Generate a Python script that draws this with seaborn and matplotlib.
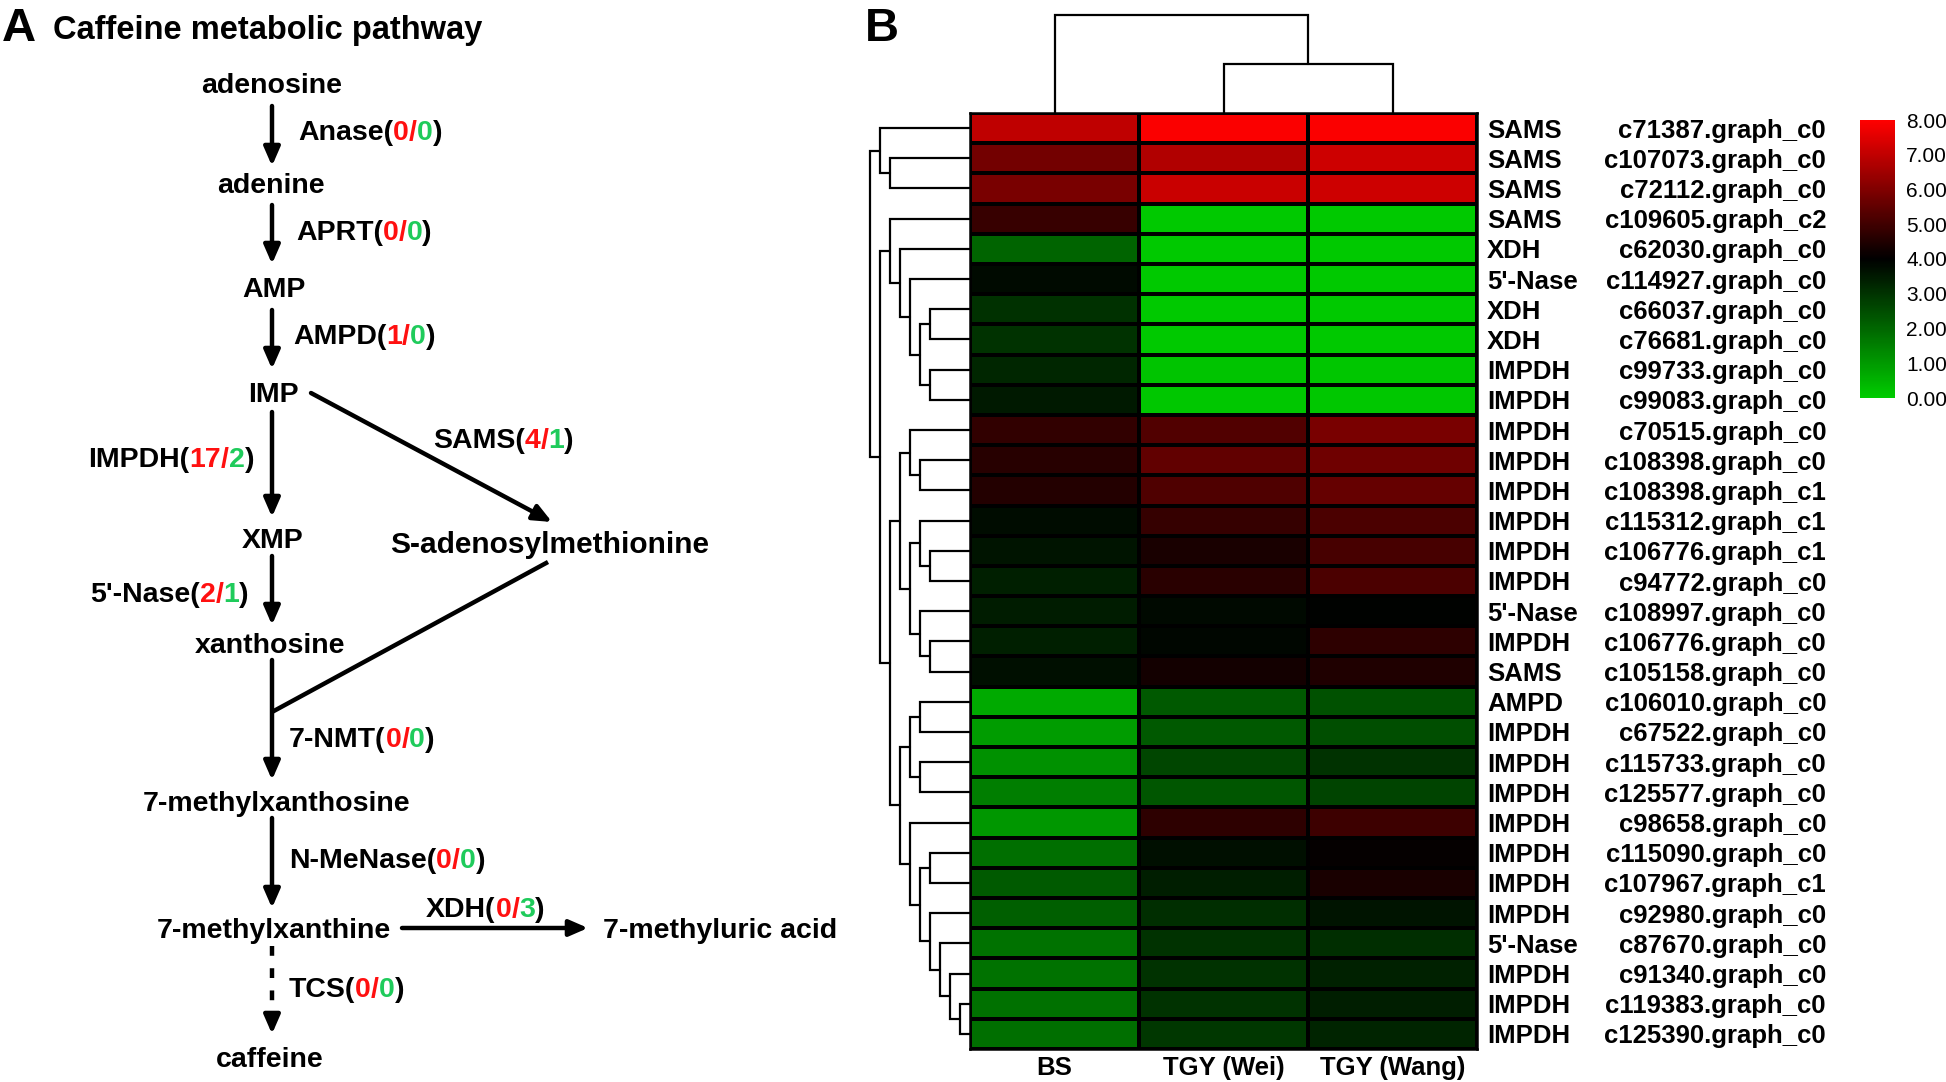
import numpy as np
import pandas as pd
import matplotlib
matplotlib.use("Agg")
import matplotlib.pyplot as plt
import seaborn as sns
from matplotlib.colors import LinearSegmentedColormap
from matplotlib import transforms

sns.set_style("white")
plt.rcParams['font.family'] = ['Liberation Sans', 'DejaVu Sans']
plt.rcParams.update({'text.color': 'black', 'xtick.color': 'black',
                     'ytick.color': 'black', 'axes.labelcolor': 'black'})

# ---------------- data ----------------
samples = ["BS", "TGY (Wei)", "TGY (Wang)"]
genes = ["SAMS", "SAMS", "SAMS", "SAMS", "XDH", "5'-Nase", "XDH", "XDH", "IMPDH", "IMPDH",
         "IMPDH", "IMPDH", "IMPDH", "IMPDH", "IMPDH", "IMPDH", "5'-Nase", "IMPDH", "SAMS",
         "AMPD", "IMPDH", "IMPDH", "IMPDH", "IMPDH", "IMPDH", "IMPDH", "IMPDH", "5'-Nase",
         "IMPDH", "IMPDH", "IMPDH"]
ids = ["c71387.graph_c0", "c107073.graph_c0", "c72112.graph_c0", "c109605.graph_c2",
       "c62030.graph_c0", "c114927.graph_c0", "c66037.graph_c0", "c76681.graph_c0",
       "c99733.graph_c0", "c99083.graph_c0", "c70515.graph_c0", "c108398.graph_c0",
       "c108398.graph_c1", "c115312.graph_c1", "c106776.graph_c1", "c94772.graph_c0",
       "c108997.graph_c0", "c106776.graph_c0", "c105158.graph_c0", "c106010.graph_c0",
       "c67522.graph_c0", "c115733.graph_c0", "c125577.graph_c0", "c98658.graph_c0",
       "c115090.graph_c0", "c107967.graph_c1", "c92980.graph_c0", "c87670.graph_c0",
       "c91340.graph_c0", "c119383.graph_c0", "c125390.graph_c0"]
bs_vals = [6.98, 5.80, 5.88, 4.86, 2.04, 3.80, 3.06, 3.02, 3.25, 3.50,
           4.75, 4.60, 4.55, 3.76, 3.60, 3.40, 3.45, 3.40, 3.70,
           0.67, 0.96, 1.16, 1.55, 1.06, 1.84, 2.24, 2.14, 1.75, 1.75, 1.80, 1.84]
wei_vals = [7.92, 6.75, 7.14, 0.08, 0.08, 0.08, 0.08, 0.08, 0.18, 0.10,
            5.25, 5.50, 5.22, 4.82, 4.40, 4.63, 3.84, 3.90, 4.30,
            2.27, 2.27, 2.63, 2.33, 4.70, 3.70, 3.41, 3.12, 3.02, 3.02, 3.02, 2.92]
wang_vals = [7.92, 7.20, 7.20, 0.08, 0.08, 0.08, 0.08, 0.08, 0.15, 0.10,
             5.88, 5.72, 5.57, 5.18, 5.10, 5.18, 3.94, 4.70, 4.47,
             2.43, 2.47, 3.02, 2.67, 4.94, 4.08, 4.40, 3.60, 3.12, 3.37, 3.41, 3.31]
cbar_ticks = [0, 1, 2, 3, 4, 5, 6, 7, 8]

# cluster trees (leaf = row / column index)
row_tree = ((0, (1, 2)),
            ((3, (4, (5, ((6, 7), (8, 9))))),
             (((10, (11, 12)), ((13, (14, 15)), (16, (17, 18)))),
              (((19, 20), (21, 22)), (23, ((24, 25), (26, (27, (28, (29, 30))))))))))
col_tree = (0, (1, 2))

# pathway
compounds = ["adenosine", "adenine", "AMP", "IMP", "XMP", "xanthosine",
             "7-methylxanthosine", "7-methylxanthine", "caffeine",
             "S-adenosylmethionine", "7-methyluric acid"]
enzymes = ["Anase", "APRT", "AMPD", "IMPDH", "5'-Nase", "SAMS", "7-NMT", "N-MeNase", "XDH", "TCS"]
up_counts = [0, 0, 1, 17, 2, 4, 0, 0, 0, 0]
down_counts = [0, 0, 0, 2, 1, 1, 0, 0, 3, 0]

# ---------------- figure ----------------
W, H = 1946, 1082
fig = plt.figure(figsize=(W / 100, H / 100), dpi=100)


def frect(l, t, r, b):
    return [l / W, 1 - b / H, (r - l) / W, (b - t) / H]


RED = "#FF1010"
GREEN = "#1FCB5B"
FS_P = 20.5
VA = 'center_baseline'

# panel A (pixel coordinates, y downwards)
axA = fig.add_axes([0, 0, 1, 1])
axA.set_xlim(0, W)
axA.set_ylim(H, 0)
axA.axis('off')

axA.text(2, 24, "A", fontsize=34, fontweight='bold', ha='left', va=VA)
axA.text(53, 27, "Caffeine metabolic pathway", fontsize=23.5, fontweight='bold',
         ha='left', va=VA)
axA.text(865, 24, "B", fontsize=34, fontweight='bold', ha='left', va=VA)

compound_pos = [(272, 83, 'center'), (271, 183, 'center'), (274, 287, 'center'),
                (273, 392, 'center'), (273, 538, 'center'), (270, 643, 'center'),
                (277, 801, 'center'), (274, 928, 'center'), (270, 1057, 'center'),
                (550, 542, 'center'), (603, 928, 'left')]
for name, (x, y, ha) in zip(compounds, compound_pos):
    fs = 21.5 if name == "S-adenosylmethionine" else FS_P
    axA.text(x, y, name, fontsize=fs, fontweight='bold', ha=ha, va=VA)

enzyme_pos = [(298, 130), (296, 230), (293, 334), (88, 457), (90, 592),
              (433, 438), (289, 737), (289, 858), (426, 907), (289, 987)]
for name, u, d, (x, y) in zip(enzymes, up_counts, down_counts, enzyme_pos):
    t = axA.text(x, y, name + "(", fontsize=FS_P, fontweight='bold', ha='left', va=VA)
    for piece, col in [(str(u), RED), ("/", RED), (str(d), GREEN), (")", "black")]:
        t = axA.annotate(piece, xy=(1, 0), xycoords=t, ha='left', va='bottom',
                         fontsize=FS_P, fontweight='bold', color=col)

LW = 3.2
AP = dict(arrowstyle='-|>,head_length=0.62,head_width=0.27', lw=LW, color='black',
          shrinkA=0, shrinkB=0, mutation_scale=18)


def arrow(x0, y0, x1, y1):
    axA.annotate('', xy=(x1, y1), xytext=(x0, y0), arrowprops=AP)


arrow(272, 106, 272, 166)
arrow(272, 205, 272, 264)
arrow(272, 310, 272, 369)
arrow(272, 412, 272, 517)
arrow(272, 556, 272, 625)
arrow(272, 660, 272, 780)
arrow(272, 818, 272, 908)
arrow(311, 393, 552, 522)
arrow(402, 928, 588, 928)
axA.plot([548, 272], [562, 712], color='black', lw=LW, solid_capstyle='butt')
axA.plot([272, 272], [946, 1015], color='black', lw=LW, dashes=(2.2, 2.8))
arrow(272, 1018, 272, 1034)

# panel B heatmap
df = pd.DataFrame({samples[0]: bs_vals, samples[1]: wei_vals, samples[2]: wang_vals})
cmap = LinearSegmentedColormap.from_list("gkr", ["#00CC00", "#000000", "#FF0000"])
ax_hm = fig.add_axes(frect(970, 113, 1477, 1049))
ax_cb = fig.add_axes(frect(1860, 120, 1895, 398))
sns.heatmap(df, ax=ax_hm, cmap=cmap, vmin=0, vmax=8, cbar_ax=ax_cb,
            linewidths=1.6, linecolor='black', yticklabels=False, xticklabels=samples)
for sp in ax_hm.spines.values():
    sp.set_visible(True)
    sp.set_linewidth(1.8)
    sp.set_color('black')
ax_hm.tick_params(axis='x', length=0, pad=5, labelsize=18.5, rotation=0)
for lab in ax_hm.get_xticklabels():
    lab.set_fontweight('bold')

cb = ax_hm.collections[0].colorbar
cb.set_ticks(cbar_ticks)
cb.set_ticklabels([f"{v:.2f}" for v in cbar_ticks])
cb.outline.set_visible(False)
ax_cb.tick_params(length=0, labelsize=15, pad=8)

trans = transforms.blended_transform_factory(fig.transFigure, ax_hm.transData)
for i, (g, t) in enumerate(zip(genes, ids)):
    ax_hm.text(1487 / W, i + 0.5, g, transform=trans, ha='left', va=VA,
               fontsize=18.5, fontweight='bold', clip_on=False)
    ax_hm.text(1826 / W, i + 0.5, t, transform=trans, ha='right', va=VA,
               fontsize=18.5, fontweight='bold', clip_on=False)


# dendrograms
def draw_tree(ax, node, depth, leaf_depth, orient):
    if isinstance(node, int):
        return node + 0.5, leaf_depth
    p1, d1 = draw_tree(ax, node[0], depth + 1, leaf_depth, orient)
    p2, d2 = draw_tree(ax, node[1], depth + 1, leaf_depth, orient)
    if orient == 'left':
        ax.plot([d1, depth, depth, d2], [p1, p1, p2, p2], color='black', lw=1.6,
                clip_on=False, solid_joinstyle='miter')
    else:
        ax.plot([p1, p1, p2, p2], [d1, depth, depth, d2], color='black', lw=1.6,
                clip_on=False, solid_joinstyle='miter')
    return (p1 + p2) / 2, depth


ax_rd = fig.add_axes(frect(860, 113, 970, 1049))
ax_rd.set_xlim(-1, 10)
ax_rd.set_ylim(len(genes), 0)
ax_rd.axis('off')
draw_tree(ax_rd, row_tree, 0, 10, 'left')

ax_cd = fig.add_axes(frect(970, 15, 1477, 113))
ax_cd.set_xlim(0, len(samples))
ax_cd.set_ylim(2, 0)
ax_cd.axis('off')
draw_tree(ax_cd, col_tree, 0, 2, 'top')

fig.savefig("out.png", dpi=100)
